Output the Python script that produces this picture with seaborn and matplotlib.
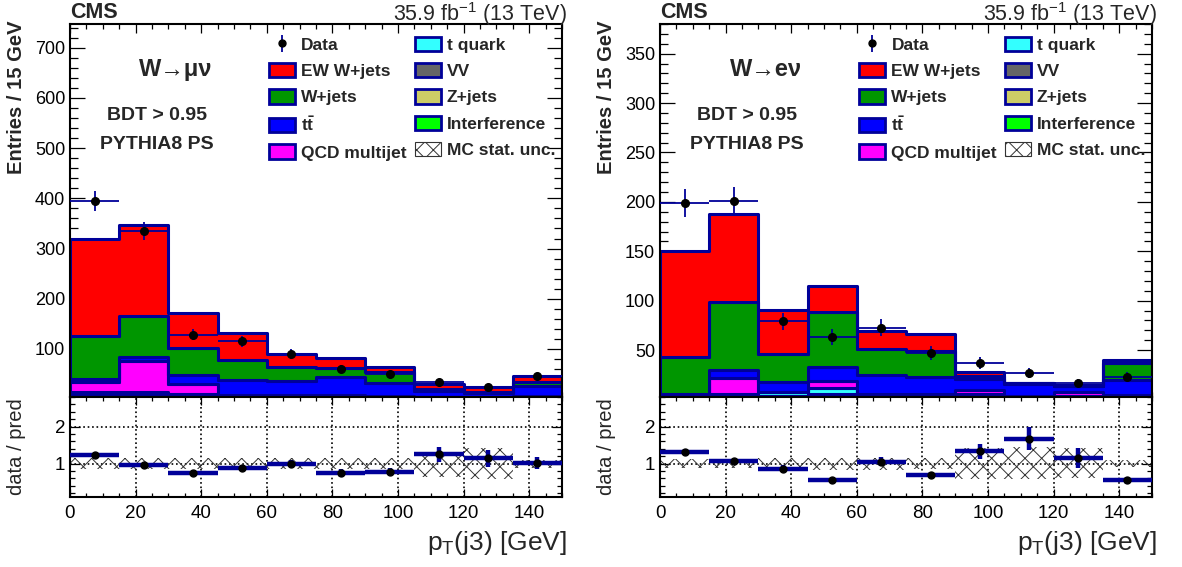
import numpy as np
import pandas as pd
import seaborn as sns
import matplotlib.pyplot as plt
from matplotlib.patches import Patch
from matplotlib.ticker import MultipleLocator

# binning in pT(j3)
bin_edges = [0, 15, 30, 45, 60, 75, 90, 105, 120, 135, 150]
bin_centers = [7.5, 22.5, 37.5, 52.5, 67.5, 82.5, 97.5, 112.5, 127.5, 142.5]

proc_keys = ['EW W+jets', 'W+jets', 'ttbar', 'QCD multijet', 't quark', 'VV', 'Z+jets', 'Interference']
proc_labels = ['EW W+jets', 'W+jets', r'$\mathbf{t\bar{t}}$', 'QCD multijet', 't quark', 'VV', 'Z+jets', 'Interference']
proc_colors = ['#ff0000', '#009600', '#0000ff', '#ff00ff', '#33ffff', '#666666', '#cccc66', '#00ff00']

# W -> mu nu
ew_mu = [195, 181, 70, 54, 26, 20, 11, 10, 10, 11]
wj_mu = [85, 82, 53, 40, 29, 18, 22, 4, 2, 8]
tt_mu = [5, 8, 18, 30, 28, 36, 26, 12.5, 8.5, 21]
qcd_mu = [21, 62, 20, 0, 0, 0, 0, 0, 0, 0]
tq_mu = [6, 6, 4, 3, 3, 3, 2, 1, 1, 2]
vv_mu = [3, 3, 2, 2, 2, 2, 1, 1, 1, 1]
zj_mu = [4, 4, 3, 2, 2, 2, 2, 1, 1, 2]
int_mu = [1, 1, 1, 1, 1, 1, 1, 0.5, 0.5, 1]
data_mu = [395, 335, 128, 115, 90, 61, 50, 35, 25, 46]
data_err_mu = [20, 18, 11, 11, 9.5, 8, 7, 6, 5, 7]
ratio_mu = [1.23, 0.97, 0.75, 0.88, 1.0, 0.75, 0.78, 1.25, 1.14, 1.01]
ratio_err_mu = [0.06, 0.05, 0.06, 0.07, 0.1, 0.1, 0.1, 0.2, 0.22, 0.16]
unc_lo_mu = [0.85, 0.85, 0.85, 0.85, 0.85, 0.85, 0.85, 0.64, 0.58, 0.88]
unc_hi_mu = [1.15, 1.15, 1.15, 1.15, 1.15, 1.15, 1.15, 1.2, 1.41, 1.1]

# W -> e nu
ew_e = [107, 89, 44.5, 26, 18, 17, 4, 0.5, 0.5, 3.5]
wj_e = [37, 69, 28.5, 56, 27, 26, 3, 0.5, 0.5, 17]
tt_e = [1, 8, 10, 13.5, 18.5, 17, 11, 12, 5.5, 14.5]
qcd_e = [0, 16, 0, 7, 0, 0, 4, 0, 4, 0]
tq_e = [2, 3, 4, 6, 3, 3, 3, 2, 2, 2]
vv_e = [1, 1, 1, 2, 1, 1, 1, 1, 1, 1]
zj_e = [1, 1, 2, 3, 1, 1, 1, 0.5, 0.5, 1]
int_e = [1, 1, 1, 1, 1, 1, 1, 0.5, 0.5, 1]
data_e = [199, 201, 79, 63.5, 72.5, 47, 37, 27, 16.3, 22.4]
data_err_e = [14, 14, 9, 8, 8.5, 7, 6, 5, 4, 5]
ratio_e = [1.32, 1.06, 0.86, 0.55, 1.05, 0.69, 1.33, 1.67, 1.14, 0.55]
ratio_err_e = [0.07, 0.06, 0.09, 0.06, 0.12, 0.08, 0.21, 0.31, 0.27, 0.1]
unc_lo_e = [0.88, 0.88, 0.84, 0.84, 0.84, 0.85, 0.58, 0.58, 0.62, 0.9]
unc_hi_e = [1.12, 1.12, 1.16, 1.16, 1.16, 1.15, 1.41, 1.45, 1.41, 1.1]

navy = '#000099'

sns.set_style('ticks')
plt.rcParams['font.family'] = ['Liberation Sans', 'DejaVu Sans']
plt.rcParams['mathtext.fontset'] = 'custom'
plt.rcParams['mathtext.rm'] = 'Liberation Sans'
plt.rcParams['mathtext.it'] = 'Liberation Sans:italic'
plt.rcParams['mathtext.bf'] = 'Liberation Sans:bold'
plt.rcParams['hatch.linewidth'] = 0.7


def style_ticks(ax, xlen, ylen, size):
    ax.tick_params(which='both', direction='in', top=True, right=True,
                   labelsize=size, width=0.9, colors='black')
    ax.tick_params(axis='x', which='major', length=xlen)
    ax.tick_params(axis='x', which='minor', length=xlen * 0.5)
    ax.tick_params(axis='y', which='major', length=ylen)
    ax.tick_params(axis='y', which='minor', length=ylen * 0.5)
    for s in ax.spines.values():
        s.set_linewidth(1.5)
        s.set_color('black')


def draw_panel(ax, axr, comps, data, data_err, ratio, ratio_err, unc_lo, unc_hi,
               ymax, ymin, ymajor, yminor, channel):
    rows = []
    for key, vals in zip(proc_keys, comps):
        for c, v in zip(bin_centers, vals):
            rows.append((c, v, key))
    df = pd.DataFrame(rows, columns=['pt', 'n', 'proc'])

    sns.histplot(data=df, x='pt', weights='n', hue='proc', hue_order=proc_keys,
                 palette=dict(zip(proc_keys, proc_colors)), multiple='stack',
                 bins=bin_edges, element='step', edgecolor=navy, linewidth=2.2,
                 alpha=1, legend=False, ax=ax)

    ax.errorbar(bin_centers, data, xerr=7.5, yerr=data_err, fmt='o', color='black',
                ms=5.5, ecolor=navy, elinewidth=1.3, capsize=0, zorder=5)

    ax.set_xlim(0, 150)
    ax.set_ylim(ymin, ymax)
    ax.set_xlabel('')
    ax.set_ylabel('Entries / 15 GeV', fontsize=14.5, fontweight='bold', loc='top')
    ax.yaxis.set_label_coords(-0.09, 1.01)
    ax.xaxis.set_major_locator(MultipleLocator(20))
    ax.xaxis.set_minor_locator(MultipleLocator(5))
    ax.yaxis.set_major_locator(MultipleLocator(ymajor))
    ax.yaxis.set_minor_locator(MultipleLocator(yminor))
    ax.tick_params(axis='x', labelbottom=False)
    style_ticks(ax, 6.5, 11, 13)

    ax.text(0.0, 1.015, 'CMS', transform=ax.transAxes, ha='left', va='baseline',
            fontsize=15.5, fontweight='bold')
    ax.text(1.01, 1.008, r'35.9 fb$^{\mathregular{-1}}$ (13 TeV)', transform=ax.transAxes,
            ha='right', va='baseline', fontsize=15.5)
    ax.text(0.215, 0.877, channel, transform=ax.transAxes, ha='center', va='center',
            fontsize=17, fontweight='bold')
    ax.text(0.177, 0.756, 'BDT > 0.95', transform=ax.transAxes, ha='center', va='center',
            fontsize=14, fontweight='bold')
    ax.text(0.177, 0.676, 'PYTHIA8 PS', transform=ax.transAxes, ha='center', va='center',
            fontsize=14, fontweight='bold')

    # legend
    data_h = ax.errorbar([np.nan], [np.nan], yerr=[1], fmt='o', color='black', ms=5,
                         ecolor=navy, elinewidth=1.3)
    handles = [data_h]
    labels = ['Data']
    for lab, col in zip(proc_labels, proc_colors):
        handles.append(Patch(facecolor=col, edgecolor=navy, linewidth=2.0))
        labels.append(lab)
    handles.append(Patch(facecolor='white', edgecolor='#333333', hatch='xx', linewidth=0.8))
    labels.append('MC stat. unc.')
    ax.legend(handles, labels, ncol=2, loc='upper left', bbox_to_anchor=(0.405, 0.966),
              frameon=False, prop=dict(weight='bold', size=12.5), handlelength=1.5,
              handleheight=0.9, handletextpad=0.35, labelspacing=0.58,
              columnspacing=0.45, borderpad=0, borderaxespad=0)

    # ratio panel
    lo = np.array(unc_lo)
    hi = np.array(unc_hi)
    axr.bar(bin_centers, hi - lo, bottom=lo, width=15, color='none', edgecolor='#333333',
            hatch='xx', linewidth=0, zorder=1)
    axr.errorbar(bin_centers, ratio, xerr=7.5, yerr=ratio_err, fmt='o', color='black',
                 ms=5, ecolor=navy, elinewidth=3.2, capsize=0, zorder=4)
    axr.set_xlim(0, 150)
    axr.set_ylim(0.1, 2.8)
    axr.xaxis.set_major_locator(MultipleLocator(20))
    axr.xaxis.set_minor_locator(MultipleLocator(5))
    axr.yaxis.set_major_locator(MultipleLocator(1))
    axr.yaxis.set_minor_locator(MultipleLocator(0.2))
    axr.grid(True, which='major', linestyle=':', color='black', linewidth=1.2)
    style_ticks(axr, 6, 7, 13.5)
    axr.tick_params(axis='x', pad=6)
    axr.set_ylabel('data / pred', fontsize=14.5)
    axr.yaxis.set_label_coords(-0.09, 0.5)
    axr.set_xlabel(r'p$_{\mathregular{T}}$(j3) [GeV]', fontsize=19, loc='right')
    axr.xaxis.set_label_coords(1.01, -0.32)


fig = plt.figure(figsize=(11.82, 5.67), dpi=100)
ax1 = fig.add_axes([0.0592, 0.2998, 0.4162, 0.6578])
ax1r = fig.add_axes([0.0592, 0.1235, 0.4162, 0.1764])
ax2 = fig.add_axes([0.5584, 0.2998, 0.4162, 0.6578])
ax2r = fig.add_axes([0.5584, 0.1235, 0.4162, 0.1764])

draw_panel(ax1, ax1r,
           [ew_mu, wj_mu, tt_mu, qcd_mu, tq_mu, vv_mu, zj_mu, int_mu],
           data_mu, data_err_mu, ratio_mu, ratio_err_mu, unc_lo_mu, unc_hi_mu,
           747, 4.4, 100, 20, 'W→μν')
draw_panel(ax2, ax2r,
           [ew_e, wj_e, tt_e, qcd_e, tq_e, vv_e, zj_e, int_e],
           data_e, data_err_e, ratio_e, ratio_err_e, unc_lo_e, unc_hi_e,
           380, 2.5, 50, 10, 'W→eν')

fig.savefig('out.png', dpi=100)
